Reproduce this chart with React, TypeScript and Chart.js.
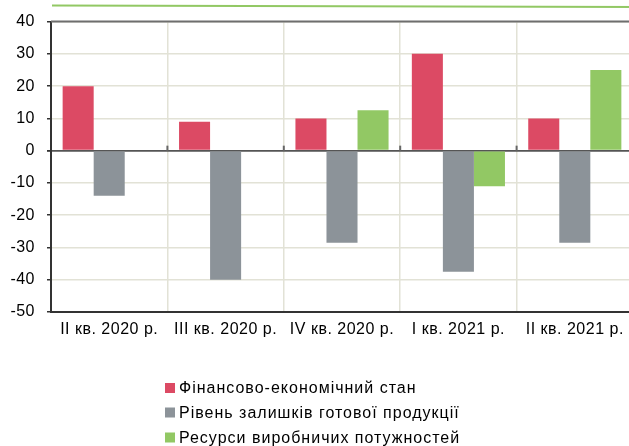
import React, { useEffect, useRef } from "react";
import { Chart, registerables } from "chart.js";

Chart.register(...registerables);

const categories = ["II кв. 2020 р.", "III кв. 2020 р.", "IV кв. 2020 р.", "I кв. 2021 р.", "II кв. 2021 р."];
const seriesLabels = ["Фінансово-економічний стан", "Рівень залишків готової продукції", "Ресурси виробничих потужностей"];
const financial = [20, 9, 10, 30, 10];
const stocks = [-14, -40, -28.5, -37.5, -28.5];
const capacity = [null, null, 12.5, -11, 25];
const colors = ["#DC4A64", "#8C9399", "#92C864"];
const yMin = -50;
const yMax = 40;
const yStep = 10;

const FONT = "'Liberation Sans', Arial, sans-serif";

const decorPlugin = {
  id: "decor",
  beforeDraw(chart: any) {
    const ctx = chart.ctx;
    ctx.save();
    ctx.strokeStyle = "#92C864";
    ctx.lineWidth = 2;
    ctx.beginPath();
    ctx.moveTo(52, 5.5);
    ctx.lineTo(chart.width, 7);
    ctx.stroke();
    ctx.restore();
    (ctx as any).letterSpacing = "0.5px";
  },
  afterDraw(chart: any) {
    const ctx = chart.ctx;
    const x = chart.scales.x;
    const y = chart.scales.y;
    const area = chart.chartArea;
    const zero = y.getPixelForValue(0);
    ctx.save();
    // top border
    ctx.strokeStyle = "#6e6e6e";
    ctx.lineWidth = 2;
    ctx.beginPath();
    ctx.moveTo(area.left, area.top);
    ctx.lineTo(area.right, area.top);
    ctx.stroke();
    ctx.strokeStyle = "#666";
    ctx.lineWidth = 2;
    for (let i = 0; i < categories.length; i++) {
      const bx = (x.getPixelForValue(i) + x.getPixelForValue(i + 1)) / 2;
      ctx.beginPath();
      ctx.moveTo(bx, zero - 5);
      ctx.lineTo(bx, zero);
      ctx.stroke();
    }
    // legend
    const rows = [388, 412.5, 437.5];
    ctx.font = `16px ${FONT}`;
    (ctx as any).letterSpacing = "1px";
    ctx.textBaseline = "middle";
    ctx.textAlign = "left";
    chart.data.datasets.forEach((ds: any, i: number) => {
      ctx.fillStyle = ds.backgroundColor;
      ctx.fillRect(165, rows[i] - 5, 10, 10);
      ctx.fillStyle = "#000";
      ctx.fillText(ds.label, 179, rows[i] + 1);
    });
    ctx.restore();
    (ctx as any).letterSpacing = "0px";
  },
};

export default function App() {
  const ref = useRef<HTMLCanvasElement>(null);
  useEffect(() => {
    if (!ref.current) return;
    const chart = new Chart(ref.current, {
      type: "bar",
      data: {
        labels: categories,
        datasets: [
          { label: seriesLabels[0], data: financial, backgroundColor: colors[0] },
          { label: seriesLabels[1], data: stocks, backgroundColor: colors[1] },
          { label: seriesLabels[2], data: capacity as any, backgroundColor: colors[2] },
        ],
      },
      options: {
        responsive: false,
        animation: false,
        layout: { padding: { top: 19, left: 0, right: 7, bottom: 0 } },
        datasets: { bar: { categoryPercentage: 0.8, barPercentage: 1 } },
        plugins: { legend: { display: false }, tooltip: { enabled: false } },
        scales: {
          x: {
            afterFit: (s: any) => { s.height = 446 - 312; },
            grid: { color: "#E2E2D6", lineWidth: 1.5, drawTicks: false, offset: true },
            border: { color: "#333", width: 2 },
            ticks: { color: "#000", font: { family: FONT, size: 16 }, padding: 8, maxRotation: 0, autoSkip: false },
          },
          y: {
            min: yMin,
            max: yMax,
            afterFit: (s: any) => { s.width = 51; },
            grid: {
              color: (c: any) => (c.tick && c.tick.value === 0 ? "#555" : "#E2E2D6"),
              lineWidth: (c: any) => (c.tick && c.tick.value === 0 ? 1.8 : 1.5),
              tickColor: "#333",
              tickLength: 4,
            },
            border: { color: "#333", width: 2 },
            ticks: { stepSize: yStep, color: "#000", font: { family: FONT, size: 16 }, padding: 12 },
          },
        },
      },
      plugins: [decorPlugin],
    });
    return () => chart.destroy();
  }, []);
  return (
    <div style={{ position: "absolute", left: 0, top: 0, width: 629, height: 446, overflow: "hidden", background: "#fff" }}>
      <canvas ref={ref} width={640} height={446} style={{ width: 640, height: 446, display: "block" }} />
    </div>
  );
}
